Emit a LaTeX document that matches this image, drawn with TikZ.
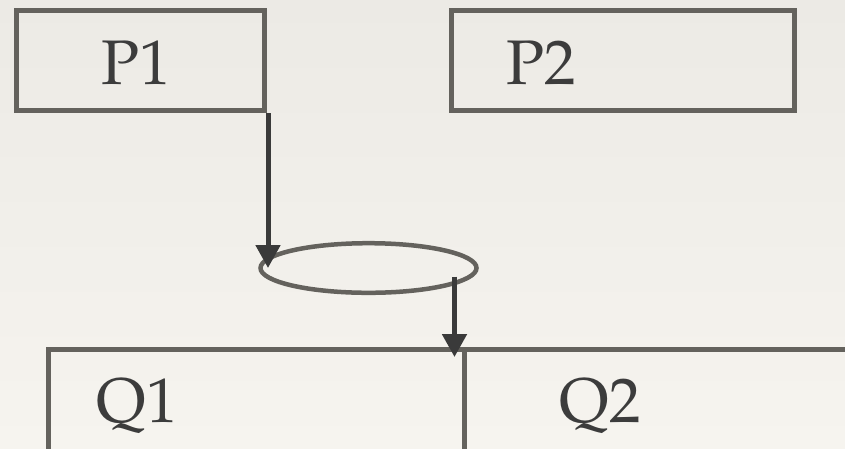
\documentclass[tikz,border=0pt]{standalone}
\usepackage[T1]{fontenc}
\renewcommand{\rmdefault}{ppl}
\usetikzlibrary{shapes.geometric,arrows.meta}

\definecolor{boxline}{RGB}{100,98,93}
\definecolor{arrowcol}{RGB}{58,58,58}
\definecolor{textcol}{RGB}{60,60,60}
\definecolor{paperTop}{RGB}{236,234,229}
\definecolor{paperBottom}{RGB}{246,244,239}

\tikzset{
  box/.style={draw=boxline, line width=5pt, rectangle, inner sep=0pt, outer sep=0pt},
  ring/.style={draw=boxline, line width=4.5pt, ellipse, inner sep=0pt, outer sep=0pt},
  label/.style={text=textcol, font=\fontsize{63}{70}\selectfont, inner sep=0pt, anchor=base},
  flow/.style={draw=arrowcol, line width=5pt,
    -{Triangle[width=24pt,length=23pt]}, arrowcol, shorten >=0pt},
}

\begin{document}
\begin{tikzpicture}[x=1pt,y=-1pt]
  % paper
  \shade[top color=paperTop, bottom color=paperBottom] (0,0) rectangle (845,448);
  \useasboundingbox (0,0) rectangle (845,448);
  \clip (0,0) rectangle (845,448);

  % upper boxes
  \node[box, minimum width=248pt, minimum height=100pt] (P1) at (140.5,60.5) {};
  \node[box, minimum width=343pt, minimum height=100pt] (P2) at (622.5,60.5) {};
  \node[label] (tP1) at (136,84) {P1};
  \node[label] (tP2) at (541,84) {P2};

  % join
  \node[ring, minimum width=216pt, minimum height=49.6pt] (E) at (368.5,268) {};

  % lower boxes, running off the page
  \node[box, minimum width=415.3pt, minimum height=131pt] (Q1) at (256.35,415) {};
  \node[box, minimum width=416pt, minimum height=131pt] (Q2) at (672,415) {};
  \node[label] (tQ1) at (137.5,422) {Q1};
  \node[label] (tQ2) at (600,422) {Q2};

  % connectors
  \coordinate (a0) at ([xshift=3.5pt,yshift=-2.5pt]P1.south east);
  \draw[flow] (a0) -- (a0 |- E.west);
  \coordinate (b0) at ([xshift=86pt,yshift=-8.7pt]E.center);
  \draw[flow] (b0) -- ([yshift=-7.5pt]b0 |- Q1.north);
\end{tikzpicture}
\end{document}
